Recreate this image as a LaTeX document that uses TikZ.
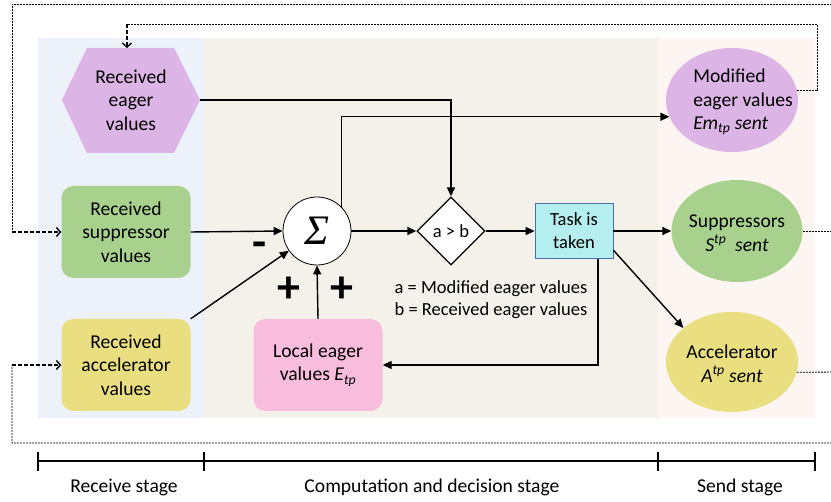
\documentclass[tikz,border=0pt]{standalone}
\usepackage{fontspec}
\setmainfont{Carlito}
\newfontfamily\sigmafont{Liberation Serif}
\usetikzlibrary{arrows.meta, shapes.geometric, calc}

\definecolor{recvblue}{RGB}{237,241,249}
\definecolor{compbeige}{RGB}{244,241,234}
\definecolor{sendpink}{RGB}{252,245,241}
\definecolor{eagerpurple}{RGB}{221,180,230}
\definecolor{suppgreen}{RGB}{169,209,142}
\definecolor{accyellow}{RGB}{234,223,128}
\definecolor{localpink}{RGB}{248,188,220}
\definecolor{taskcyan}{RGB}{180,238,238}
\definecolor{taskedge}{RGB}{70,114,170}

\newcommand{\nodefont}{\fontsize{19.6}{23.5}\selectfont}
\newcommand{\notefont}{\fontsize{18.5}{22}\selectfont}

\tikzset{
  txt/.style={align=center, inner sep=0pt, font=\nodefont},
  box/.style={txt, rounded corners=12pt, minimum width=129pt, minimum height=92pt},
  sendell/.style={ellipse, inner sep=0pt},
  conn/.style={line width=1.4pt, -{Triangle[length=9pt,width=8pt]}},
  fbline/.style={line width=0.8pt, dash pattern=on 2pt off 1pt},
  fbarrow/.style={line width=1.4pt, dash pattern=on 4pt off 2pt, -{Straight Barb[length=4pt,width=9pt]}},
  sign/.style={inner sep=0pt, font=\fontsize{46}{46}\selectfont\bfseries},
  stageline/.style={line width=1.3pt}
}

\begin{document}
\begin{tikzpicture}[x=1pt, y=-1pt]
  \useasboundingbox (0,0) rectangle (831,502);

  % Stage panels
  \fill[recvblue] (38,38) rectangle (204,418);
  \fill[compbeige] (204,38) rectangle (658,418);
  \fill[sendpink] (658,38) rectangle (815,418);

  % Receive stage
  \fill[eagerpurple] (62,100) -- (87,48) -- (174,48) -- (200,100) -- (174,153) -- (87,153) -- cycle;
  \node[txt] (reag) at (131,100) {Received\\eager\\values};
  \coordinate (reag-e) at (200,100);
  \coordinate (reag-n) at (127,48);
  \node[box, fill=suppgreen] (rsup) at (126,232) {Received\\suppressor\\values};
  \node[box, fill=accyellow] (racc) at (126,365) {Received\\accelerator\\values};

  % Computation and decision
  \node[circle, draw, fill=white, line width=0.8pt, minimum size=68pt, inner sep=0pt,
        font=\fontsize{42}{42}\selectfont\sigmafont\itshape] (sig) at (317,231) {Σ};
  \node[diamond, draw, fill=white, line width=1.3pt, minimum size=68pt, inner sep=0pt,
        font=\notefont] (dia) at (451,231) {a > b};
  \node[txt, draw=taskedge, fill=taskcyan, line width=0.8pt, minimum width=78pt,
        minimum height=55pt, font=\fontsize{18.5}{23}\selectfont] (task) at (574,231) {Task is\\taken};
  \node[box, fill=localpink] (loc) at (318,365) {Local eager\\values \textit{E}\textsubscript{\itshape tp}};
  \node[txt, align=left, font=\notefont] (legend) at (491,300)
        {a = Modified eager values\\b = Received eager values};

  % Signs at the sum
  \node[sign] (minus) at (260,250) {-};
  \node[sign] (plusa) at (289,290) {+};
  \node[sign] (plusb) at (342,290) {+};

  % Send stage
  \node[sendell, fill=eagerpurple, minimum width=132pt, minimum height=104pt] (mod) at (732,100) {};
  \node[txt, align=left] (modtxt) at (743,102) {Modified\\eager values\\\textit{Em}\textsubscript{\itshape tp} \textit{sent}};
  \node[sendell, fill=suppgreen, minimum width=131pt, minimum height=102pt] (sup) at (737,231) {};
  \node[txt] (suptxt) at (737,233) {Suppressors\\\textit{S}\textsuperscript{\itshape tp}\ \ \textit{sent}};
  \node[sendell, fill=accyellow, minimum width=132pt, minimum height=100pt] (acc) at (732,362) {};
  \node[txt] (acctxt) at (732,364) {Accelerator\\\textit{A}\textsuperscript{\itshape tp} \textit{sent}};

  % Connectors
  \draw[conn] (reag-e) -| (dia.north);
  \draw[conn] (sig.45) |- (mod.195);
  \draw[conn] (rsup.east) -- (sig.west);
  \draw[conn] (racc.north east) -- (sig.215);
  \draw[conn] (loc.north) -- (sig.south);
  \draw[conn] (sig.east) -- (dia.west);
  \draw[conn] (dia.east) -- (task.west);
  \draw[conn] (task.east) -- (sup.west);
  \draw[conn] (task.-26) -- (acc.145);
  \draw[conn] ([xshift=24pt]task.south) |- (loc.east);

  % Feedback loops
  \draw[fbline] (mod.8) -| (817,24) -- (127,24);
  \draw[fbarrow] (127,24) -- (reag-n);
  \draw[fbline] (sup.east) -- (845,231) |- (12,4) -- (12,232);
  \draw[fbarrow] (12,232) -- (rsup.west);
  \draw[fbline] (acc.-9) -- (845,372) |- (12,443) -- (12,365);
  \draw[fbarrow] (12,365) -- (racc.west);

  % Stage timeline
  \draw[stageline] (38,461) -- (815,461);
  \foreach \x in {38,204,658,815}
    \draw[stageline] (\x,452) -- (\x,471);
  \node[txt] (recvlbl) at (124,487) {Receive stage};
  \node[txt] (complbl) at (432,487) {Computation and decision stage};
  \node[txt] (sendlbl) at (740,487) {Send stage};
\end{tikzpicture}
\end{document}
